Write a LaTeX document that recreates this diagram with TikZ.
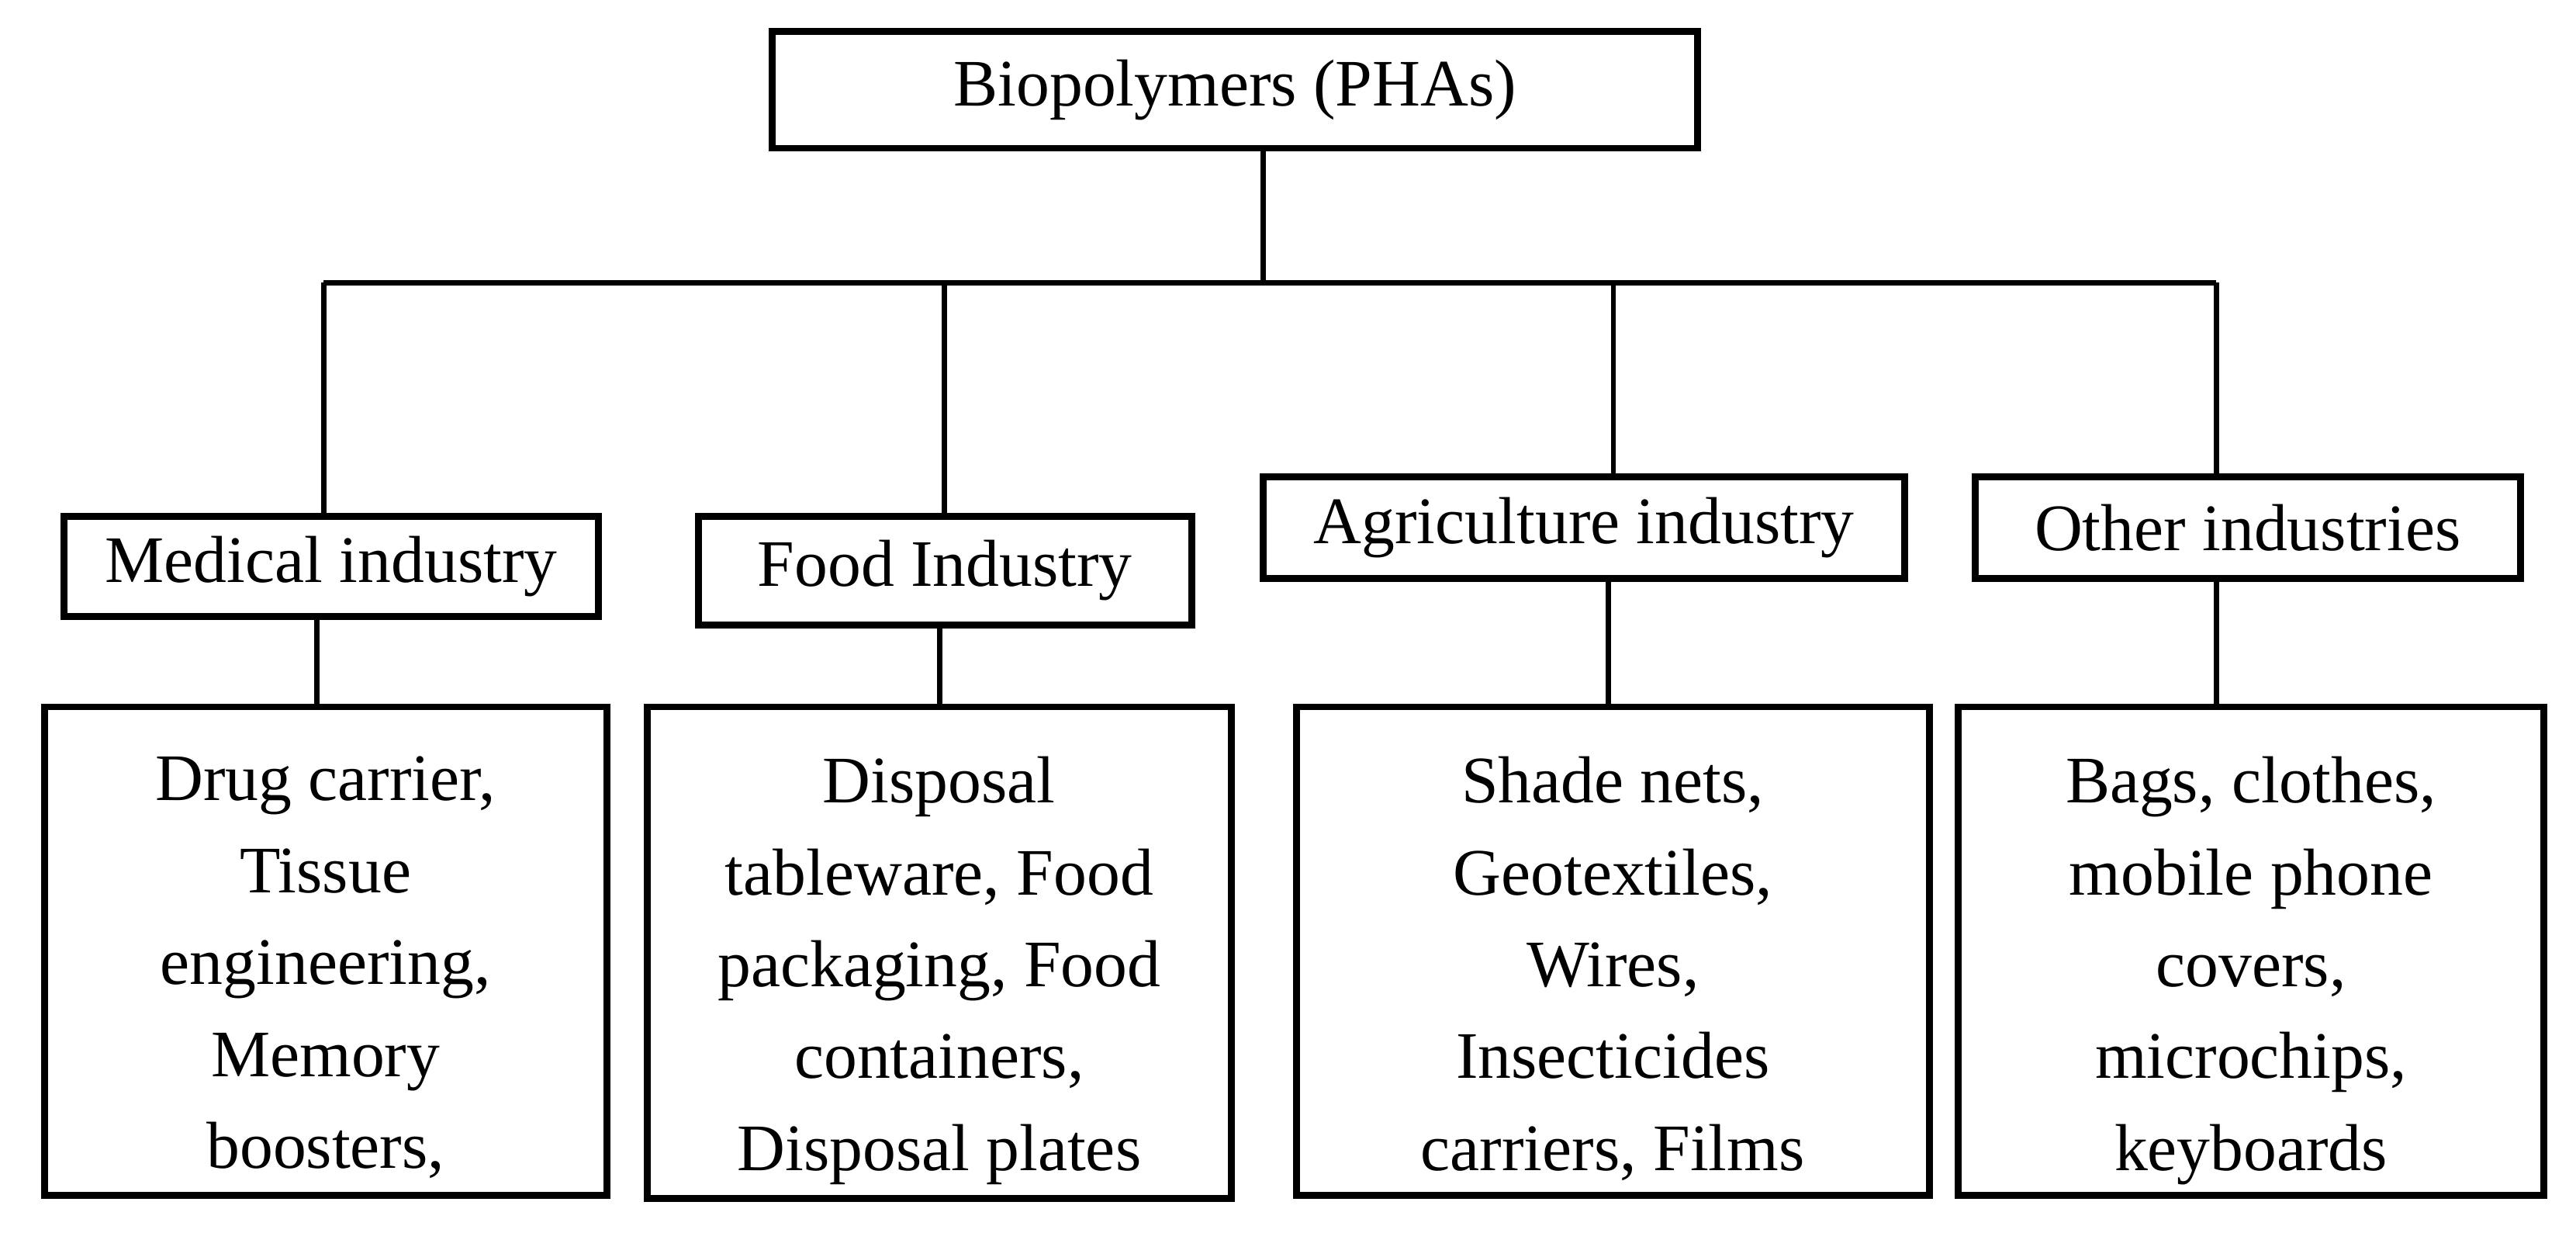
\documentclass[tikz,border=0pt]{standalone}
\usepackage{fontspec}
\setmainfont{Liberation Serif}
\begin{document}
\begin{tikzpicture}[x=0.01cm,y=-0.01cm,
  box/.style={draw,line width=1.2pt,inner sep=0pt,anchor=north west},
  ln/.style={line width=0.9pt},
  txt/.style={font=\fontsize{11.5pt}{15.9pt}\selectfont,align=center}]
\useasboundingbox (0,0) rectangle (1568,750);
\node[box,minimum width=5.63cm,minimum height=0.71cm] (top) at (468,17) {};
\node[txt] at (top.center) {Biopolymers (PHAs)};
\node[box,minimum width=3.25cm,minimum height=0.61cm] (m2) at (37,312) {};
\node[txt] at (m2.center) {Medical industry};
\node[box,minimum width=3.00cm,minimum height=0.66cm] (f2) at (423,312) {};
\node[txt] at (f2.center) {Food Industry};
\node[box,minimum width=3.90cm,minimum height=0.62cm] (a2) at (767,288) {};
\node[txt] at (a2.center) {Agriculture industry};
\node[box,minimum width=3.32cm,minimum height=0.62cm] (o2) at (1200,288) {};
\node[txt] at (o2.center) {Other industries};
\node[box,minimum width=3.42cm,minimum height=2.97cm] (m3) at (25,428) {};
\node[txt,anchor=north] at ([yshift=-0.2cm]m3.north) {Drug carrier,\\Tissue\\engineering,\\Memory\\boosters,};
\node[box,minimum width=3.55cm,minimum height=2.99cm] (f3) at (392,428) {};
\node[txt,anchor=north] at ([yshift=-0.2cm]f3.north) {Disposal\\tableware, Food\\packaging, Food\\containers,\\Disposal plates};
\node[box,minimum width=3.85cm,minimum height=2.97cm] (a3) at (787,428) {};
\node[txt,anchor=north] at ([yshift=-0.2cm]a3.north) {Shade nets,\\Geotextiles,\\Wires,\\Insecticides\\carriers, Films};
\node[box,minimum width=3.56cm,minimum height=2.97cm] (o3) at (1190,428) {};
\node[txt,anchor=north] at ([yshift=-0.2cm]o3.north) {Bags, clothes,\\mobile phone\\covers,\\microchips,\\keyboards};
\coordinate (hb) at (769,172);
\draw[ln] (top.south -| hb) -- (hb);
\draw[ln] (197,172) -- (1349,172);
\draw[ln] (197,172) -- (197,312);
\draw[ln] (575,172) -- (575,312);
\draw[ln] (982,172) -- (982,288);
\draw[ln] (1349,172) -- (1349,288);
\draw[ln] (193,373) -- (193,428);
\draw[ln] (572,378) -- (572,428);
\draw[ln] (979,350) -- (979,428);
\draw[ln] (1349,350) -- (1349,428);
\end{tikzpicture}
\end{document}
